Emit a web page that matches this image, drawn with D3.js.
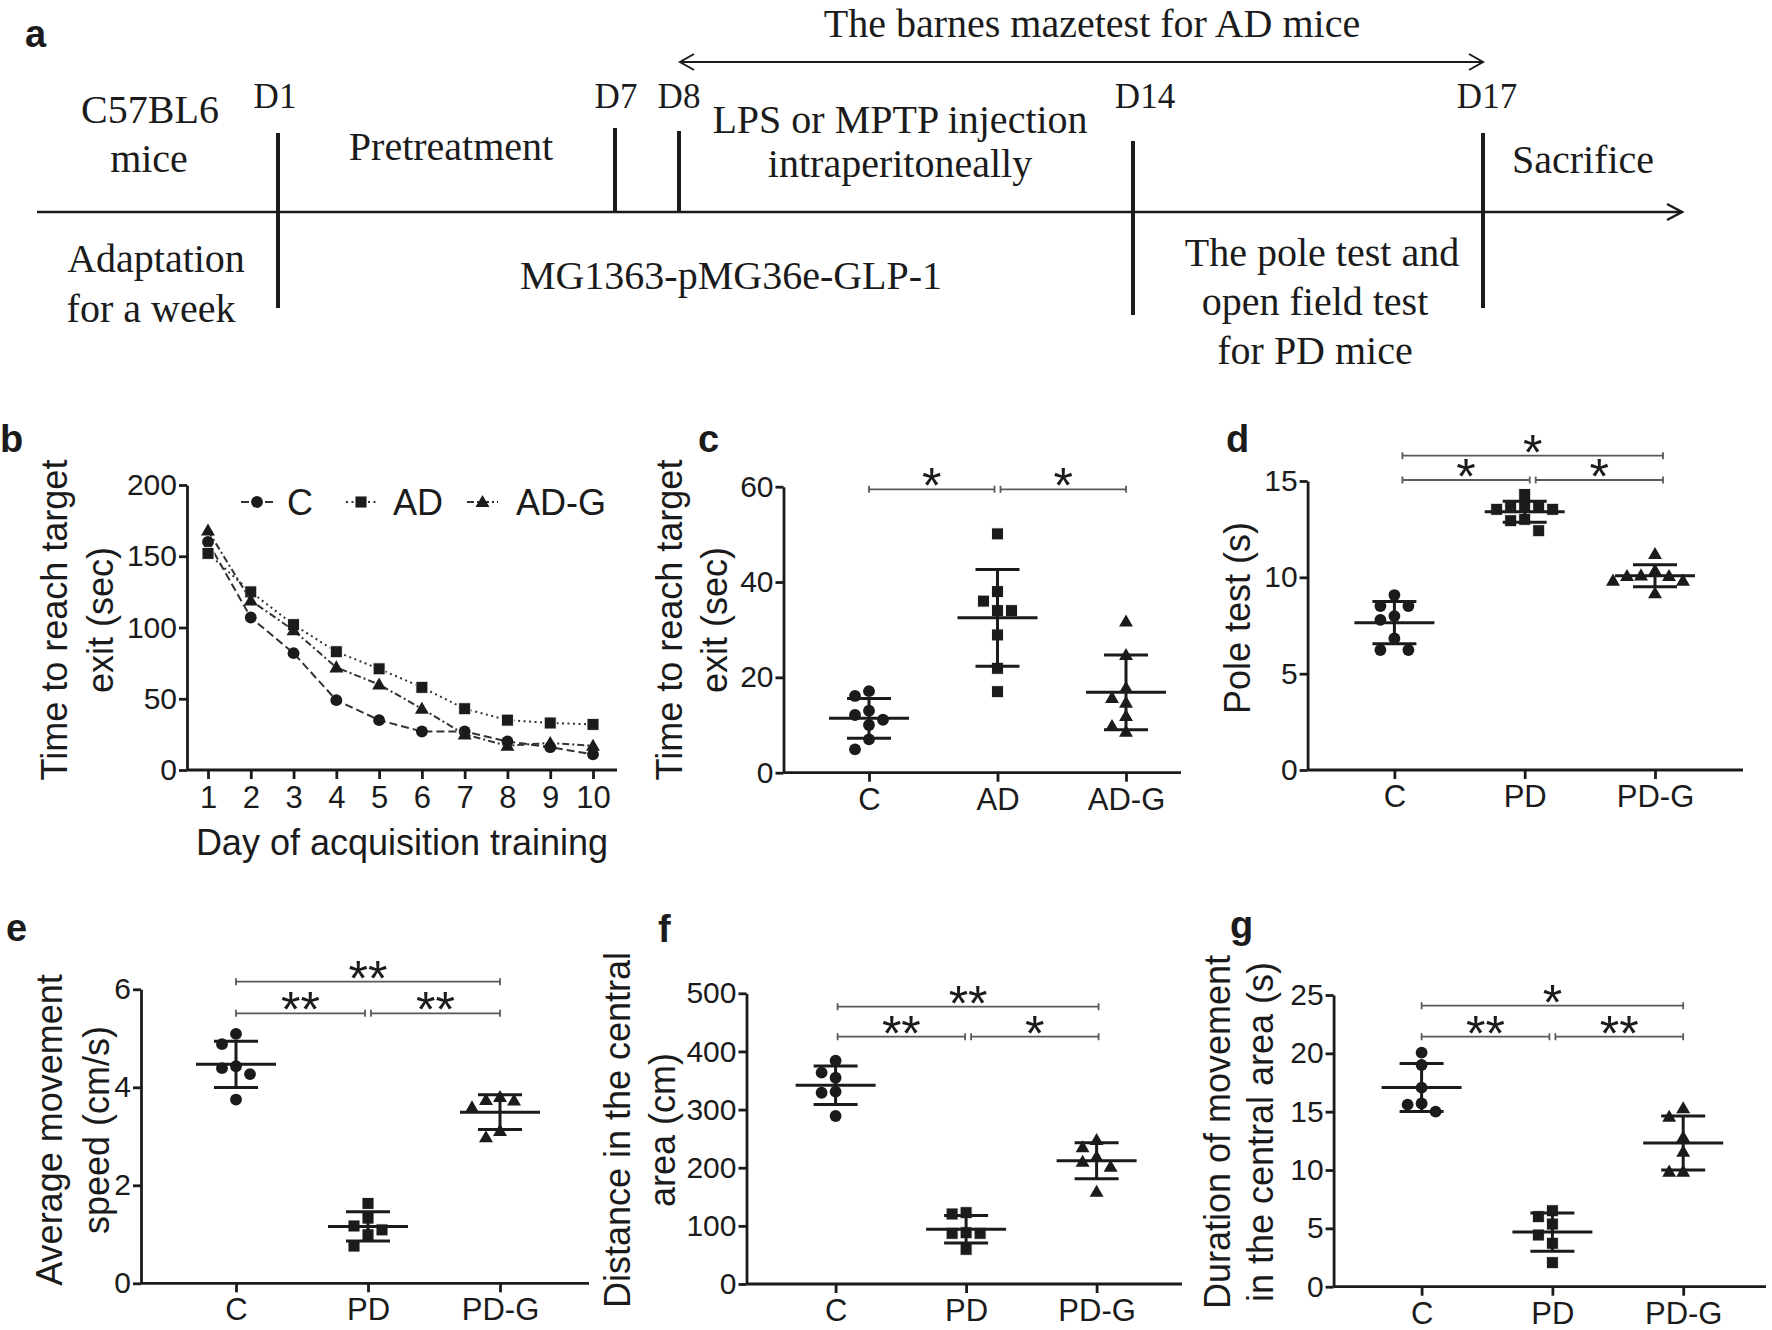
<!DOCTYPE html>
<html><head><meta charset="utf-8">
<script src="https://cdn.jsdelivr.net/npm/d3@7"></script>
<style>body{margin:0;background:#fff} svg{display:block}</style>
</head><body>
<svg id="fig" width="1772" height="1330"></svg>
<script>
// ================= DATA =================
// panel a: timeline labels
const timelineDays = ["D1","D7","D8","D14","D17"];
const timelineTop = ["The barnes mazetest for AD mice"];
// panel b: learning curves
const days = [1,2,3,4,5,6,7,8,9,10];
const seriesB = ["C","AD","AD-G"];
const bC   = [160,107,82,49,35,27,27,20,16,11];
const bAD  = [152,125,102,83,71,58,43,35,33,32];
const bADG = [168,119,98,72,60,43,25,17,19,17];
const bTicks = [0,50,100,150,200];
// panel c
const adCats = ["C","AD","AD-G"];
const cC   = [17.1,16.1,13.0,12.1,11.1,10.0,7.0,4.9];
const cAD  = [50.1,38.0,36.0,34.0,34.0,28.9,21.9,17.0];
const cADG = [31.7,24.7,17.8,15.7,14.7,11.9,9.8,8.6];
const cTicks = [0,20,40,60];
const cSig = [["C","AD","*"],["AD","AD-G","*"]];
// panel d
const pdCats = ["C","PD","PD-G"];
const dC   = [9.08,8.51,8.51,7.99,7.79,6.83,6.23,6.23];
const dPD  = [14.3,13.67,13.63,13.63,13.53,13.53,13.01,12.94,12.42];
const dPDG = [11.21,10.35,10.1,10.07,10.07,9.83,9.83,9.17];
const dTicks = [0,5,10,15];
const dSig = [["C","PD","*"],["PD","PD-G","*"],["C","PD-G","*"]];
// panel e
const eC   = [5.09,4.88,4.43,4.39,4.27,3.75];
const ePD  = [1.63,1.33,1.17,1.09,0.99,0.76];
const ePDG = [3.80,3.74,3.73,3.59,3.11,2.98];
const eTicks = [0,2,4,6];
const eSig = [["C","PD","**"],["PD","PD-G","**"],["C","PD-G","**"]];
// panel f
const fC   = [384,363.5,354.8,330.8,329,289];
const fPD  = [122.7,120.4,88.2,87.2,87.2,59.7];
const fPDG = [247.7,235.1,219,210.4,201.8,158.8];
const fTicks = [0,100,200,300,400,500];
const fSig = [["C","PD","**"],["PD","PD-G","*"],["C","PD-G","**"]];
// panel g
const gC   = [20.06,19.0,17.06,15.7,15.6,15.0];
const gPD  = [6.51,6.0,5.37,4.43,3.72,2.06];
const gPDG = [15.29,14.57,12.8,11.57,9.86,9.86];
const gTicks = [0,5,10,15,20,25];
const gSig = [["C","PD","**"],["PD","PD-G","**"],["C","PD-G","*"]];

// ================= STYLE / LAYOUT =================
const SANS = "'Liberation Sans', Arial, Helvetica, sans-serif";
const SERIF = "'Liberation Serif', 'Times New Roman', serif";
const INK = "#1b1b1b";
const GREY = "#5a5a5a";
const svg = d3.select("#fig");
svg.append("rect").attr("width",1772).attr("height",1330).attr("fill","#fff");

function txt(g, s, x, y, o) {
  o = o || {};
  const t = g.append("text").attr("x",x).attr("y",y).text(s)
    .attr("fill", INK)
    .style("font-family", o.font || SANS)
    .style("font-size", (o.size||30)+"px")
    .attr("text-anchor", o.anchor || "start");
  if (o.bold) t.style("font-weight","bold");
  if (o.rot) t.attr("transform",`rotate(-90,${x},${y})`).attr("dominant-baseline","central");
  return t;
}

// panel labels
[["a",25,47],["b",0,452],["c",698,452],["d",1226,452],["e",6,941],["f",658,942],["g",1230,938]]
  .forEach(([s,x,y]) => txt(svg,s,x,y,{size:38,bold:true}));

// ================= PANEL A (timeline) =================
(function(){
  const g = svg.append("g");
  const lineY = 212;
  g.append("line").attr("x1",37).attr("x2",1682).attr("y1",lineY).attr("y2",lineY)
    .attr("stroke",INK).attr("stroke-width",2.5);
  g.append("path").attr("d",`M1667,${lineY-8}L1682,${lineY}L1667,${lineY+8}`)
    .attr("fill","none").attr("stroke",INK).attr("stroke-width",2.5);
  // double arrow
  const ay = 62, ax0 = 680, ax1 = 1483;
  g.append("line").attr("x1",ax0).attr("x2",ax1).attr("y1",ay).attr("y2",ay)
    .attr("stroke",INK).attr("stroke-width",2);
  g.append("path").attr("d",`M${ax0+14},${ay-8}L${ax0},${ay}L${ax0+14},${ay+8}M${ax1-14},${ay-8}L${ax1},${ay}L${ax1-14},${ay+8}`)
    .attr("fill","none").attr("stroke",INK).attr("stroke-width",2);
  // day bars
  const bars = [[278,133,308],[615,128,212],[679,131,212],[1133,141,315],[1483,133,308]];
  const dayLabelX = [275,616,679,1145,1487];
  timelineDays.forEach((d,i)=>{
    const b = bars[i];
    g.append("line").attr("x1",b[0]).attr("x2",b[0]).attr("y1",b[1]).attr("y2",b[2])
      .attr("stroke",INK).attr("stroke-width",4);
    txt(g,d,dayLabelX[i],108,{font:SERIF,size:35,anchor:"middle"});
  });
  const S = {font:SERIF,size:40,anchor:"middle"};
  txt(g,timelineTop[0],1092,37,S);
  txt(g,"C57BL6",150,123,S);
  txt(g,"mice",149,172,S);
  txt(g,"Pretreatment",451,160,S);
  txt(g,"LPS or MPTP injection",900,133,S);
  txt(g,"intraperitoneally",900,177,S);
  txt(g,"Sacrifice",1583,173,S);
  txt(g,"Adaptation",156,272,S);
  txt(g,"for a week",151,322,S);
  txt(g,"MG1363-pMG36e-GLP-1",731,289,S);
  txt(g,"The pole test and",1322,266,S);
  txt(g,"open field test",1315,315,S);
  txt(g,"for PD mice",1315,364,S);
})();

// ================= helpers for plots =================
const SHAPES = [d3.symbolCircle, d3.symbolSquare, d3.symbolTriangle];
const SIZES = [110, 144, 84];
function drawMarker(g, k, x, y) {
  const p = g.append("path").attr("d", d3.symbol().type(SHAPES[k]).size(SIZES[k])())
    .attr("transform",`translate(${x},${y})`).attr("fill",INK);
  if (k===1) p.attr("stroke","#fff").attr("stroke-width",0.9);
  if (k===2) p.attr("transform",`translate(${x},${y+1})`);
}
function styleAxis(g) {
  g.select(".domain").attr("stroke",INK).attr("stroke-width",2.8);
  g.selectAll(".tick line").attr("stroke",INK).attr("stroke-width",2.8);
  g.selectAll(".tick text").attr("fill",INK).style("font-family",SANS).style("font-size","30px");
}
const fmt = d3.format("d");

// ================= PANEL B =================
(function(){
  const g = svg.append("g");
  const x = d3.scaleLinear().domain([1,10]).range([208,593]);
  const y = d3.scaleLinear().domain([0,200]).range([770,485]);
  const ya = g.append("g").attr("transform","translate(187,0)")
    .call(d3.axisLeft(y).tickValues(bTicks).tickFormat(fmt).tickSize(8).tickPadding(2).tickSizeOuter(0));
  styleAxis(ya);
  const xa = g.append("g").attr("transform","translate(0,770)")
    .call(d3.axisBottom(x).tickValues(days).tickFormat(fmt).tickSize(9).tickPadding(7).tickSizeOuter(0));
  styleAxis(xa);
  xa.select(".domain").attr("d","M187,0H617");
  xa.selectAll(".tick text").style("font-size","31px");
  const dash = ["8,4","2,3.5","7,3,2,3"];
  [bC,bAD,bADG].forEach((s,k)=>{
    g.append("path").datum(s)
      .attr("d", d3.line().x((v,i)=>x(days[i])).y(v=>y(v)))
      .attr("fill","none").attr("stroke","#333").attr("stroke-width",2)
      .attr("stroke-dasharray",dash[k]);
    s.forEach((v,i)=>drawMarker(g,k,x(days[i]),y(v)));
  });
  // legend
  const legX = [[241,273,287],[346,376,393],[467,498,516]];
  seriesB.forEach((s,k)=>{
    const [l0,l1,tx] = legX[k];
    g.append("line").attr("x1",l0).attr("x2",l1).attr("y1",502).attr("y2",502)
      .attr("stroke","#333").attr("stroke-width",2).attr("stroke-dasharray",dash[k]);
    drawMarker(g,k,(l0+l1)/2,502);
    txt(g,s,tx,515,{size:36});
  });
  txt(g,"Time to reach target",54,620,{size:36,anchor:"middle",rot:true});
  txt(g,"exit (sec)",100,620,{size:36,anchor:"middle",rot:true});
  txt(g,"Day of acquisition training",402,855,{size:36,anchor:"middle"});
})();

// ================= SCATTER PANELS =================
function swarm(values, y, cx, step, minD) {
  const pts = values.map(v=>({v, y:y(v)})).sort((a,b)=>a.y-b.y);
  const placed = [];
  pts.forEach(p=>{
    for (let k=0;k<30;k++){
      const off = k===0 ? 0 : (k%2 ? -1 : 1) * Math.ceil(k/2) * step;
      const xx = cx + off;
      if (placed.every(q=>Math.hypot(q.x-xx, q.y-p.y) >= minD)) { p.x = xx; placed.push(p); break; }
    }
  });
  return pts;
}

function scatterPanel(cfg) {
  const g = svg.append("g");
  const y = d3.scaleLinear().domain([0, d3.max(cfg.ticks)]).range([cfg.y0, cfg.yTop]);
  const x = d3.scalePoint().domain(cfg.cats).range([cfg.cx0, cfg.cx1]);
  const ya = g.append("g").attr("transform",`translate(${cfg.ax},0)`)
    .call(d3.axisLeft(y).tickValues(cfg.ticks).tickFormat(fmt).tickSize(8).tickPadding(2).tickSizeOuter(0));
  styleAxis(ya);
  const xa = g.append("g").attr("transform",`translate(0,${cfg.y0})`)
    .call(d3.axisBottom(x).tickSize(9).tickPadding(6).tickSizeOuter(0));
  styleAxis(xa);
  xa.select(".domain").attr("d",`M${cfg.ax},0H${cfg.xEnd}`);
  xa.selectAll(".tick text").style("font-size","31px");

  cfg.groups.forEach((vals,k)=>{
    const cx = x(cfg.cats[k]);
    swarm(vals, y, cx, 14, 12).forEach(p=>drawMarker(g,k,p.x,p.y));
    const m = d3.mean(vals), sd = d3.deviation(vals);
    const ln = (x1,x2,y1,y2)=>g.append("line").attr("x1",x1).attr("x2",x2).attr("y1",y1).attr("y2",y2)
      .attr("stroke",INK).attr("stroke-width",3);
    ln(cx-40,cx+40,y(m),y(m));
    ln(cx-22,cx+22,y(m+sd),y(m+sd));
    ln(cx-22,cx+22,y(m-sd),y(m-sd));
    ln(cx,cx,y(m+sd),y(m-sd));
  });

  // significance brackets
  const idx = c => cfg.cats.indexOf(c);
  cfg.sig.forEach(([a,b,lab])=>{
    const span = idx(b)-idx(a);
    const rowY = span>1 ? cfg.rows[1] : cfg.rows[0];
    let x1 = x(a)+cfg.shift, x2 = x(b)+cfg.shift;
    if (span===1) { if (idx(a)>0) x1 += 3; if (idx(b)<cfg.cats.length-1) x2 -= 3; }
    g.append("path").attr("d",`M${x1},${rowY-3.5}V${rowY+3.5}M${x1},${rowY}H${x2}M${x2},${rowY-3.5}V${rowY+3.5}`)
      .attr("fill","none").attr("stroke",GREY).attr("stroke-width",1.8);
    txt(g,lab,(x1+x2)/2,rowY+14,{size:50,anchor:"middle"});
  });
  cfg.title.forEach((t,i)=>txt(g,t,cfg.tx[i],cfg.ty,{size:36,anchor:"middle",rot:true}));
}

scatterPanel({cats:adCats, groups:[cC,cAD,cADG], ticks:cTicks, sig:cSig,
  ax:783.5, y0:772.7, yTop:486.7, xEnd:1181, cx0:869, cx1:1126, rows:[489.3], shift:0,
  title:["Time to reach target","exit (sec)"], tx:[669,714], ty:620});
scatterPanel({cats:pdCats, groups:[dC,dPD,dPDG], ticks:dTicks, sig:dSig,
  ax:1307.6, y0:770, yTop:481, xEnd:1743, cx0:1394.4, cx1:1655, rows:[480,455.7], shift:8,
  title:["Pole test (s)"], tx:[1237], ty:618});
scatterPanel({cats:pdCats, groups:[eC,ePD,ePDG], ticks:eTicks, sig:eSig,
  ax:141, y0:1283.3, yTop:989.3, xEnd:589, cx0:236, cx1:500, rows:[1013.3,981.7], shift:0,
  title:["Average movement","speed (cm/s)"], tx:[49,96], ty:1130});
scatterPanel({cats:pdCats, groups:[fC,fPD,fPDG], ticks:fTicks, sig:fSig,
  ax:746.5, y0:1284, yTop:993.3, xEnd:1182, cx0:835.6, cx1:1096.6, rows:[1036.7,1006.7], shift:2,
  title:["Distance in the central","area (cm)"], tx:[617,662], ty:1130});
scatterPanel({cats:pdCats, groups:[gC,gPD,gPDG], ticks:gTicks, sig:gSig,
  ax:1333.6, y0:1286.7, yTop:995, xEnd:1766, cx0:1421.6, cx1:1683.2, rows:[1036.7,1005.7], shift:0,
  title:["Duration of movement","in the central area (s)"], tx:[1217,1260], ty:1132});
</script>
</body></html>
